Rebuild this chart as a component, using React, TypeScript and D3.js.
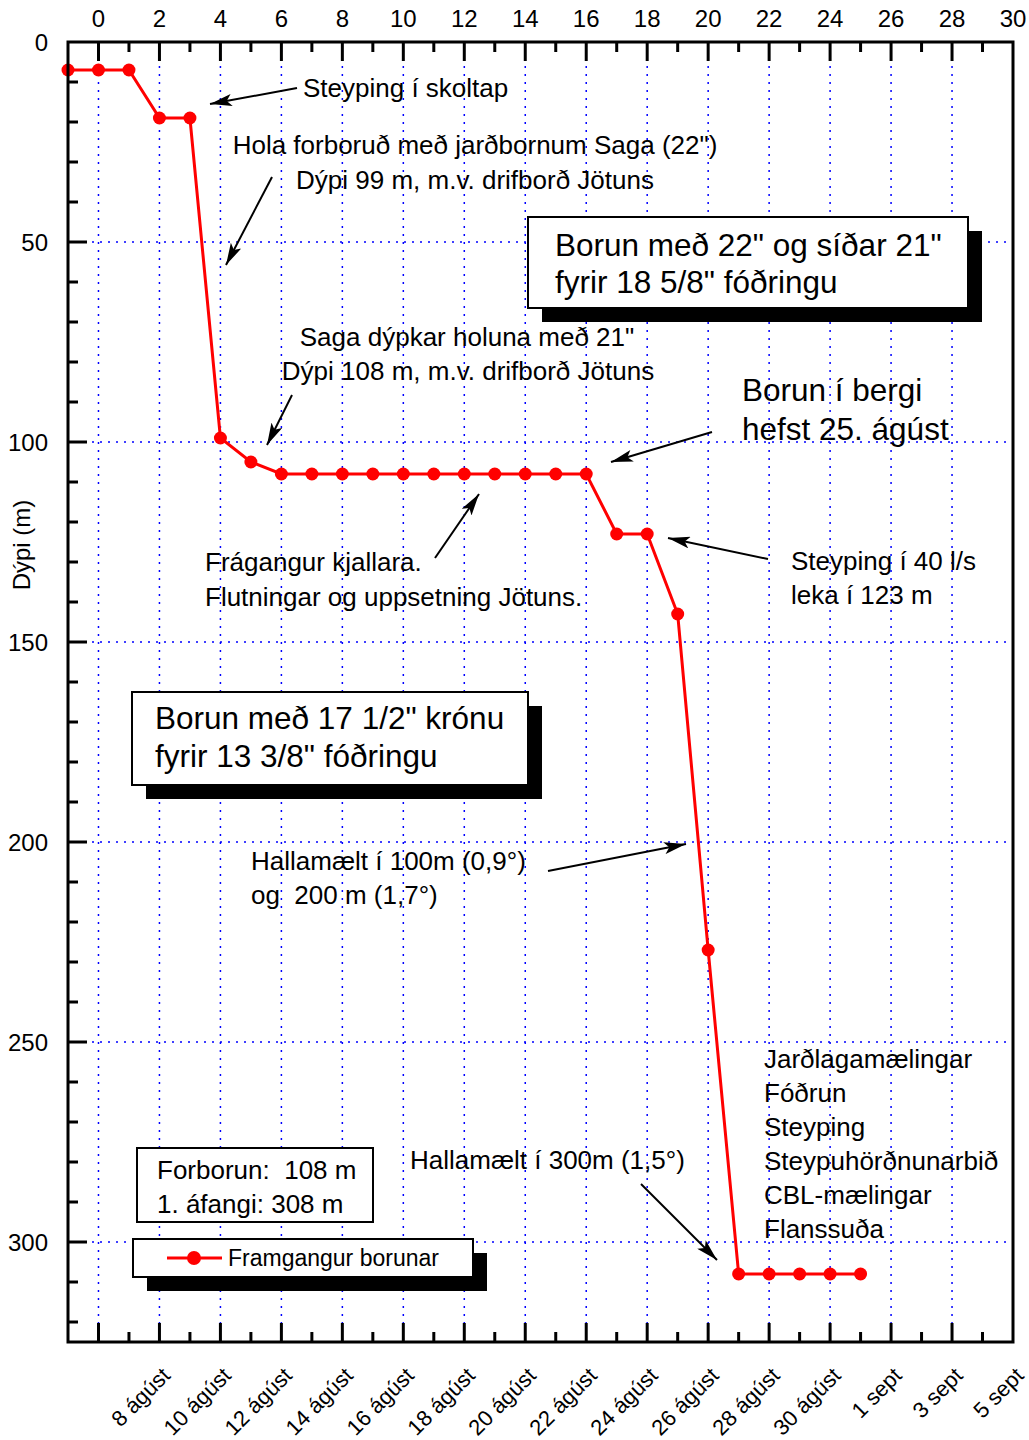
import React from "react";
import * as d3 from "d3";

const days = [-1, 0, 1, 2, 3, 4, 5, 6, 7, 8, 9, 10, 11, 12, 13, 14, 15, 16, 17, 18, 19, 20, 21, 22, 23, 24, 25];
const depths = [7, 7, 7, 19, 19, 99, 105, 108, 108, 108, 108, 108, 108, 108, 108, 108, 108, 108, 123, 123, 143, 227, 308, 308, 308, 308, 308];
const topTicks = [0, 2, 4, 6, 8, 10, 12, 14, 16, 18, 20, 22, 24, 26, 28, 30];
const dateTickPos = [2, 4, 6, 8, 10, 12, 14, 16, 18, 20, 22, 24, 26, 28, 30];
const dateLabels = ["8 ágúst", "10 ágúst", "12 ágúst", "14 ágúst", "16 ágúst", "18 ágúst", "20 ágúst", "22 ágúst", "24 ágúst", "26 ágúst", "28 ágúst", "30 ágúst", "1 sept", "3 sept", "5 sept"];
const yTicks = [0, 50, 100, 150, 200, 250, 300];
const seriesName = "Framgangur borunar";
const yTitle = "Dýpi (m)";

const FONT = "'Liberation Sans', Arial, sans-serif";

export default function App() {
  const W = 1029, H = 1440;
  const L = 68, R = 1013, T = 42, B = 1342;
  const x = d3.scaleLinear().domain([-1, 30]).range([L, R]);
  const y = d3.scaleLinear().domain([0, 325]).range([T, B]);
  const line = d3.line<number>().x((d, i) => x(days[i])).y((d) => y(d));

  const majorX = d3.range(0, 30, 2);
  const minorX = d3.range(1, 30, 2);
  const minorY = d3.range(10, 325, 10).filter((v) => v % 50 !== 0);
  const majorY = [50, 100, 150, 200, 250, 300];

  const arrows: [number, number, number, number][] = [
    [297, 88, 210, 104],
    [272, 177, 226, 265],
    [292, 395, 267, 445],
    [712, 432, 611, 462],
    [435, 558, 479, 494],
    [768, 559, 668, 538],
    [548, 871, 686, 844],
    [641, 1184, 717, 1260],
  ];

  const txt = (s: string, tx: number, ty: number, size = 26, anchor = "start") => (
    <text x={tx} y={ty} fontSize={size} textAnchor={anchor} dominantBaseline="central" fontFamily={FONT} style={{ whiteSpace: "pre" }}>{s}</text>
  );

  const shadowBox = (x0: number, y0: number, x1: number, y1: number, off: number) => (
    <g>
      {off > 0 && <rect x={x0 + off} y={y0 + off} width={x1 - x0} height={y1 - y0} fill="#000" />}
      <rect x={x0} y={y0} width={x1 - x0} height={y1 - y0} fill="#fff" stroke="#000" strokeWidth={2} />
    </g>
  );

  return (
    <svg width={W} height={H} style={{ position: "absolute", left: 0, top: 0, background: "#fff" }} fontFamily={FONT}>
      <defs>
        <marker id="ah" viewBox="0 0 22 12" refX="22" refY="6" markerWidth="22" markerHeight="12" markerUnits="userSpaceOnUse" orient="auto">
          <path d="M0,0 L22,6 L0,12 L5,6 Z" fill="#000" />
        </marker>
      </defs>
      <rect x={0} y={0} width={W} height={H} fill="#fff" />
      {majorX.map((v) => (
        <line key={"gx" + v} x1={x(v)} x2={x(v)} y1={T} y2={B} stroke="#0000ff" strokeWidth={1.5} strokeDasharray="2,6" />
      ))}
      {majorY.map((v) => (
        <line key={"gy" + v} x1={L} x2={R} y1={y(v)} y2={y(v)} stroke="#0000ff" strokeWidth={1.5} strokeDasharray="2,6" />
      ))}

      {shadowBox(528, 217, 968, 308, 14)}
      {txt("Borun með 22\" og síðar 21\"", 555, 245, 31.5)}
      {txt("fyrir 18 5/8\" fóðringu", 555, 282, 31.5)}

      {shadowBox(132, 692, 528, 785, 14)}
      {txt("Borun með 17 1/2\" krónu", 155, 718, 31.5)}
      {txt("fyrir 13 3/8\" fóðringu", 155, 756, 31.5)}

      {shadowBox(137, 1148, 373, 1222, 0)}
      {txt("Forborun:  108 m", 157, 1170)}
      {txt("1. áfangi: 308 m", 157, 1204)}

      {shadowBox(133, 1239, 473, 1277, 14)}
      <line x1={167} x2={222} y1={1258} y2={1258} stroke="#ff0000" strokeWidth={3} />
      <circle cx={194} cy={1258} r={7} fill="#ff0000" />
      {txt(seriesName, 228, 1258, 23)}

      <path d={line(depths) || ""} fill="none" stroke="#ff0000" strokeWidth={3} />
      {depths.map((d, i) => (
        <circle key={"p" + i} cx={x(days[i])} cy={y(d)} r={6.5} fill="#ff0000" />
      ))}

      {txt("Steyping í skoltap", 303, 88)}
      {txt("Hola forboruð með jarðbornum Saga (22\")", 475, 145, 26, "middle")}
      {txt("Dýpi 99 m, m.v. drifborð Jötuns", 475, 180, 26, "middle")}
      {txt("Saga dýpkar holuna með 21\"", 467, 337, 26, "middle")}
      {txt("Dýpi 108 m, m.v. drifborð Jötuns", 468, 371, 26, "middle")}
      {txt("Borun í bergi", 742, 390, 31.5)}
      {txt("hefst 25. ágúst", 742, 429, 31.5)}
      {txt("Frágangur kjallara.", 205, 562)}
      {txt("Flutningar og uppsetning Jötuns.", 205, 597)}
      {txt("Steyping í 40 l/s", 791, 561)}
      {txt("leka í 123 m", 791, 595)}
      {txt("Hallamælt í 100m (0,9°)", 251, 861)}
      {txt("og  200 m (1,7°)", 251, 895)}
      {txt("Hallamælt í 300m (1,5°)", 410, 1160)}
      {["Jarðlagamælingar", "Fóðrun", "Steyping", "Steypuhörðnunarbið", "CBL-mælingar", "Flanssuða"].map((s, i) => (
        <g key={"j" + i}>{txt(s, 764, 1059 + i * 34)}</g>
      ))}
      {arrows.map((a, i) => (
        <line key={"a" + i} x1={a[0]} y1={a[1]} x2={a[2]} y2={a[3]} stroke="#000" strokeWidth={2} markerEnd="url(#ah)" />
      ))}

      <rect x={L} y={T} width={R - L} height={B - T} fill="none" stroke="#000" strokeWidth={3} />
      {majorX.map((v) => (
        <line key={"tt" + v} x1={x(v)} x2={x(v)} y1={T} y2={T + 19} stroke="#000" strokeWidth={3} />
      ))}
      {minorX.map((v) => (
        <line key={"tm" + v} x1={x(v)} x2={x(v)} y1={T} y2={T + 10} stroke="#000" strokeWidth={3} />
      ))}
      {majorX.map((v) => (
        <line key={"bt" + v} x1={x(v)} x2={x(v)} y1={B} y2={B - 19} stroke="#000" strokeWidth={3} />
      ))}
      {minorX.map((v) => (
        <line key={"bm" + v} x1={x(v)} x2={x(v)} y1={B} y2={B - 10} stroke="#000" strokeWidth={3} />
      ))}
      {majorY.map((v) => (
        <line key={"lt" + v} x1={L} x2={L + 19} y1={y(v)} y2={y(v)} stroke="#000" strokeWidth={3} />
      ))}
      {minorY.map((v) => (
        <line key={"lm" + v} x1={L} x2={L + 10} y1={y(v)} y2={y(v)} stroke="#000" strokeWidth={3} />
      ))}
      {topTicks.map((v) => (
        <text key={"tl" + v} x={x(v)} y={18} fontSize={24} textAnchor="middle" dominantBaseline="central">{v}</text>
      ))}
      {yTicks.map((v) => (
        <text key={"yl" + v} x={48} y={y(v)} fontSize={24} textAnchor="end" dominantBaseline="central">{v}</text>
      ))}
      {dateTickPos.map((v, i) => (
        <text key={"dl" + v} transform={`translate(${x(v) + 12},${1377}) rotate(-45)`} fontSize={22} textAnchor="end">{dateLabels[i]}</text>
      ))}
      <text transform={`translate(30,545) rotate(-90)`} fontSize={24} textAnchor="middle">{yTitle}</text>
    </svg>
  );
}
